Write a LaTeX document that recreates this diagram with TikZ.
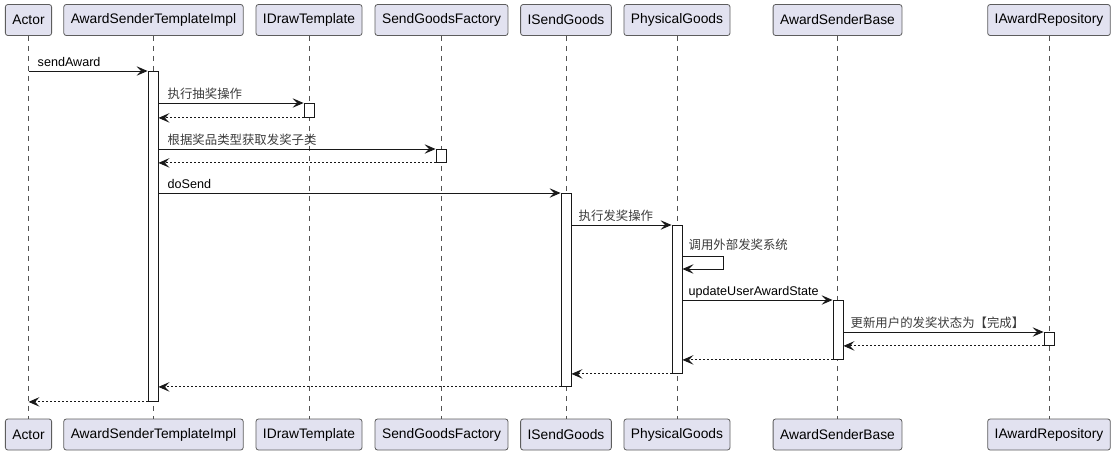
\documentclass[tikz,border=0pt]{standalone}
\usepackage{fontspec}
\setmainfont{Liberation Sans}
\newfontfamily\cjk{Noto Sans CJK SC}
\usetikzlibrary{arrows.meta,calc}
\definecolor{boxfill}{HTML}{E2E2F0}
\definecolor{ln}{HTML}{181818}
\tikzset{
  part/.style={draw=ln!70, fill=boxfill, rounded corners=2.5pt, line width=0.8pt,
    minimum height=31pt, inner xsep=7pt, font=\fontsize{13.8}{16}\selectfont, text=black},
  life/.style={draw=ln!75, line width=0.6pt, dash pattern=on 5pt off 5pt},
  act/.style={draw=ln, fill=white, line width=0.9pt, minimum width=10pt, inner sep=0pt, anchor=north},
  msg/.style={draw=ln, line width=0.9pt, -{Stealth[length=11pt,width=9.5pt,inset=4.5pt]}},
  ret/.style={msg, dash pattern=on 2pt off 2pt},
  lbl/.style={anchor=base west, inner sep=0pt, font=\fontsize{12.6}{15}\selectfont, text=black},
  clbl/.style={lbl, font=\cjk\fontsize{12.4}{15}\selectfont, text=ln!85}
}
\begin{document}
\begin{tikzpicture}[x=1pt,y=-1pt]
\useasboundingbox (0,0) rectangle (1116,456);
% participants top
\node[part] (pA) at (28.5,20) {Actor};
\node[part] (pB) at (153.5,20) {AwardSenderTemplateImpl};
\node[part] (pC) at (309,20) {IDrawTemplate};
\node[part] (pD) at (441.5,20) {SendGoodsFactory};
\node[part] (pE) at (566,20) {ISendGoods};
\node[part] (pF) at (677,20) {PhysicalGoods};
\node[part] (pG) at (837.5,20) {AwardSenderBase};
\node[part] (pH) at (1049,20) {IAwardRepository};
% participants bottom
\node[part] (qA) at (28.5,434.5) {Actor};
\node[part] (qB) at (153.5,434.5) {AwardSenderTemplateImpl};
\node[part] (qC) at (309,434.5) {IDrawTemplate};
\node[part] (qD) at (441.5,434.5) {SendGoodsFactory};
\node[part] (qE) at (566,434.5) {ISendGoods};
\node[part] (qF) at (677,434.5) {PhysicalGoods};
\node[part] (qG) at (837.5,434.5) {AwardSenderBase};
\node[part] (qH) at (1049,434.5) {IAwardRepository};
% lifelines
\foreach \p/\q in {pA/qA,pB/qB,pC/qC,pD/qD,pE/qE,pF/qF,pG/qG,pH/qH}
  \draw[life] (\p.south) -- (\q.north);
% activations
\node[act, minimum height=330pt] (a1) at (153,71) {};
\node[act, minimum height=14pt] (a2) at (309,103) {};
\node[act, minimum height=13pt] (a3) at (441,149) {};
\node[act, minimum height=193pt] (a4) at (566,193) {};
\node[act, minimum height=148pt] (a5) at (677,225) {};
\node[act, minimum height=59pt] (a6) at (838,300) {};
\node[act, minimum height=13pt] (a7) at (1049,332) {};
% messages
\draw[msg] (pA.south |- a1.north) -- (a1.north west);
\node[lbl] (l1) at ($(pA.south |- a1.north)+(9,-5)$) {sendAward};

\draw[msg] (a1.east |- a2.north) -- (a2.north west);
\node[clbl] (l2) at ($(a1.east |- a2.north)+(9,-5)$) {执行抽奖操作};
\draw[ret] (a2.south west) -- (a1.east |- a2.south);

\draw[msg] (a1.east |- a3.north) -- (a3.north west);
\node[clbl] (l3) at ($(a1.east |- a3.north)+(9,-5)$) {根据奖品类型获取发奖子类};
\draw[ret] (a3.south west) -- (a1.east |- a3.south);

\draw[msg] (a1.east |- a4.north) -- (a4.north west);
\node[lbl] (l4) at ($(a1.east |- a4.north)+(9,-5)$) {doSend};

\draw[msg] (a4.east |- a5.north) -- (a5.north west);
\node[clbl] (l5) at ($(a4.east |- a5.north)+(7,-5)$) {执行发奖操作};

\coordinate (s1) at ($(a5.north east)+(0,31)$);
\draw[msg] (s1) -- ++(41,0) -- ++(0,13) -- ($(s1)+(0,13)$);
\node[clbl] (l6) at ($(s1)+(6,-7)$) {调用外部发奖系统};

\draw[msg] (a5.east |- a6.north) -- (a6.north west);
\node[lbl] (l7) at ($(a5.east |- a6.north)+(6,-5)$) {updateUserAwardState};

\draw[msg] (a6.east |- a7.north) -- (a7.north west);
\node[clbl] (l8) at ($(a6.east |- a7.north)+(7,-5)$) {更新用户的发奖状态为【完成】};
\draw[ret] (a7.south west) -- (a6.east |- a7.south);

\draw[ret] (a6.south west) -- (a5.east |- a6.south);
\draw[ret] (a5.south west) -- (a4.east |- a5.south);
\draw[ret] (a4.south west) -- (a1.east |- a4.south);
\draw[ret] (a1.south west) -- (pA.south |- a1.south);
\end{tikzpicture}
\end{document}
